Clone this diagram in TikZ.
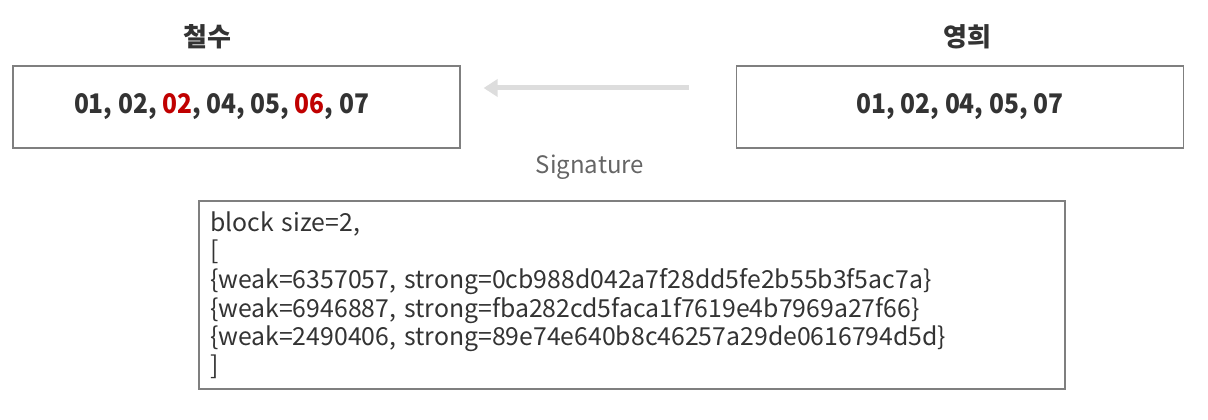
\documentclass[tikz,border=0pt]{standalone}
\usepackage{fontspec}
\setmainfont{Noto Sans CJK KR}
\newfontfamily\narrowfont[FakeStretch=0.91]{Noto Sans CJK KR}
\usepackage{tikz}
\usetikzlibrary{arrows.meta,positioning}

\definecolor{txtgray}{HTML}{333333}
\definecolor{boxgray}{HTML}{7F7F7F}
\definecolor{sigred}{HTML}{C00000}
\definecolor{arrgray}{HTML}{DDDDDD}

\begin{document}
\begin{tikzpicture}[x=1pt, y=-1pt, >=Stealth,
    numbox/.style={draw=boxgray, line width=1.2pt, minimum width=447pt, minimum height=82pt,
        inner sep=0pt, text=txtgray, font=\narrowfont\fontsize{27}{32}\selectfont\bfseries},
    who/.style={text=txtgray, font=\fontsize{26}{30}\selectfont\bfseries, inner sep=0pt},
    sigarrow/.style={draw=arrgray, line width=5pt, -{Triangle[length=14pt,width=17pt]}}]
    \useasboundingbox (0,0) rectangle (1208,420);

    % 두 사람의 파일
    \node[numbox] (chulsu) at (236.5,107) {01, 02, \textcolor{sigred}{02}, 04, 05, \textcolor{sigred}{06}, 07\hspace*{30pt}};
    \node[numbox] (younghee) at (960,107) {01, 02, 04, 05, 07};
    \node[who, above=16pt of chulsu, xshift=-29pt] (chulsuName) {철수};
    \node[who, above=16pt of younghee, xshift=7pt] (youngheeName) {영희};

    % 시그니처 전달
    \draw[sigarrow] ([xshift=-47pt,yshift=19pt]younghee.west) -- ([xshift=23pt,yshift=19pt]chulsu.east);
    \node[text=boxgray!80!black, font=\fontsize{24}{28}\selectfont, inner sep=0pt] (sig) at (590,167) {Signature};

    % 블록 목록
    \node[draw=boxgray, line width=1.2pt, minimum width=866pt, minimum height=188pt,
        text width=844pt, inner xsep=11pt, align=left, text=txtgray,
        font=\fontsize{24.8}{28.6}\selectfont] (block) at (632,295)
        {block size=2,\\
         {[}\\
         \{weak=6357057, strong=0cb988d042a7f28dd5fe2b55b3f5ac7a\}\\
         \{weak=6946887, strong=fba282cd5faca1f7619e4b7969a27f66\}\\
         \{weak=2490406, strong=89e74e640b8c46257a29de0616794d5d\}\\
         {]}};
\end{tikzpicture}
\end{document}
